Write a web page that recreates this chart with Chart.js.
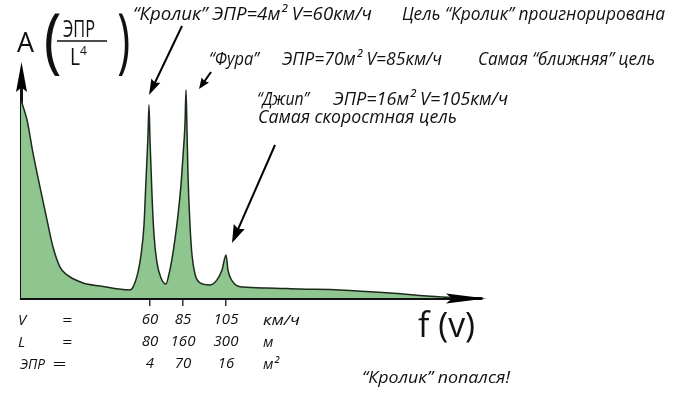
<!DOCTYPE html>
<html>
<head>
<meta charset="utf-8">
<title>f(v)</title>
<script src="https://cdn.jsdelivr.net/npm/chart.js@4/dist/chart.umd.min.js"></script>
<style>
  html, body { margin: 0; padding: 0; background: #fff; }
  #wrap { width: 680px; height: 395px; position: relative; }
</style>
</head>
<body>
<div id="wrap"><canvas id="spectrum"></canvas></div>
<script>
  // schematic doppler axis position and echo amplitude A
  const positions = [0, 6, 12, 19, 26, 32, 39, 46, 62, 79, 109,
    112, 117, 120, 123, 125, 127, 128, 129, 131, 133, 136, 140, 145,
    148, 151, 154, 157, 160, 162, 164, 165, 166, 167, 169, 171, 174, 179, 189,
    196, 201, 205, 207, 212, 222, 246, 279, 319, 369, 406, 437];
  const amplitude = [90.8, 81.7, 66.5, 50.9, 35.8, 23.4, 14.2, 10.6, 6.9, 5.5, 3.7,
    5.0, 11.9, 19.7, 33.5, 54.1, 74.8, 88.5, 72.5, 47.2, 28.9, 16.1, 9.2, 6.4,
    11.0, 18.0, 27.0, 38.0, 52.0, 65.0, 80.0, 95.4, 77.1, 56.4, 33.5, 19.7, 11.0, 6.9, 6.0,
    8.3, 12.8, 19.7, 12.8, 7.3, 5.0, 4.6, 4.1, 3.7, 2.3, 0.9, 0];

  const tickPositions = [129, 162, 205];
  const speedLabels = ['60', '85', '105'];
  const rangeLabels = ['80', '160', '300'];
  const rcsLabels = ['4', '70', '16'];

  const FAMILY = '"Open Sans", "Liberation Sans", sans-serif';

  function text(ctx, str, x, y, size, italic, width) {
    ctx.save();
    ctx.font = (italic ? 'italic ' : '') + size + 'px ' + FAMILY;
    ctx.textBaseline = 'alphabetic';
    ctx.textAlign = 'left';
    ctx.fillStyle = '#111';
    ctx.translate(x, y);
    if (width) {
      const w = ctx.measureText(str).width;
      ctx.scale(width / w, 1);
    }
    ctx.fillText(str, 0, 0);
    ctx.restore();
  }

  // squeeze a glyph into a box (used for the tall brackets)
  function boxText(ctx, str, x0, y0, x1, y1, size) {
    ctx.save();
    ctx.font = size + 'px ' + FAMILY;
    ctx.fillStyle = '#111';
    const m = ctx.measureText(str);
    const sx = (x1 - x0) / (m.actualBoundingBoxLeft + m.actualBoundingBoxRight);
    const sy = (y1 - y0) / (m.actualBoundingBoxAscent + m.actualBoundingBoxDescent);
    ctx.translate(x0 + m.actualBoundingBoxLeft * sx, y0 + m.actualBoundingBoxAscent * sy);
    ctx.scale(sx, sy);
    ctx.fillText(str, 0, 0);
    ctx.restore();
  }

  function head(ctx, x, y, angle, len, half) {
    ctx.save();
    ctx.translate(x, y);
    ctx.rotate(angle);
    ctx.beginPath();
    ctx.moveTo(0, 0);
    ctx.lineTo(-len, -half);
    ctx.lineTo(-len * 0.85, 0);
    ctx.lineTo(-len, half);
    ctx.closePath();
    ctx.fill();
    ctx.restore();
  }

  function arrow(ctx, x0, y0, x1, y1, len, half) {
    const a = Math.atan2(y1 - y0, x1 - x0);
    ctx.save();
    ctx.strokeStyle = ctx.fillStyle = '#000';
    ctx.lineWidth = 2;
    ctx.beginPath();
    ctx.moveTo(x0, y0);
    ctx.lineTo(x1 - Math.cos(a) * len * 0.8, y1 - Math.sin(a) * len * 0.8);
    ctx.stroke();
    head(ctx, x1, y1, a, len, half);
    ctx.restore();
  }

  const notes = {
    id: 'notes',
    afterDraw(chart) {
      const ctx = chart.ctx;
      const area = chart.chartArea;

      // axis arrow heads
      ctx.save();
      ctx.fillStyle = '#000';
      head(ctx, area.left + 0.5, 62, -Math.PI / 2, 30, 5.5);
      head(ctx, 486, area.bottom + 0.5, 0, 40, 5);
      ctx.restore();

      // y axis title A (ЭПР / L^4)
      text(ctx, 'A', 17, 52, 28, false, 17);
      boxText(ctx, '(', 46, 13, 60, 77, 56);
      boxText(ctx, ')', 118, 13, 129, 76, 56);
      text(ctx, 'ЭПР', 63, 37, 23, false, 32);
      ctx.save();
      ctx.strokeStyle = '#111';
      ctx.lineWidth = 1.5;
      ctx.beginPath();
      ctx.moveTo(57, 41);
      ctx.lineTo(107, 41);
      ctx.stroke();
      ctx.restore();
      text(ctx, 'L', 70, 65, 23, false, 10);
      text(ctx, '4', 80, 55, 12, false);

      // x axis title
      text(ctx, 'f (v)', 418, 337, 34, false, 57);

      // target notes
      text(ctx, '“Кролик” ЭПР=4м² V=60км/ч', 133, 20, 18, true, 239);
      text(ctx, 'Цель “Кролик” проигнорирована', 402, 20, 18, true, 263);
      text(ctx, '“Фура”', 209, 65, 18, true, 50);
      text(ctx, 'ЭПР=70м² V=85км/ч', 282, 65, 18, true, 160);
      text(ctx, 'Самая “ближняя” цель', 478, 65, 18, true, 177);
      text(ctx, '“Джип”', 257, 105, 18, true, 52);
      text(ctx, 'ЭПР=16м² V=105км/ч', 333, 105, 18, true, 175);
      text(ctx, 'Самая скоростная цель', 258, 123, 18, true, 199);
      text(ctx, '“Кролик” попался!', 362, 383, 17, true, 148);

      arrow(ctx, 182, 26, 149, 95, 16, 5);
      arrow(ctx, 211, 72, 199, 89, 11, 4.5);
      arrow(ctx, 275, 145, 232, 243, 18, 6);

      // table rows under the axis
      text(ctx, 'V', 18, 325, 15, true);
      text(ctx, '=', 62, 325, 15, true, 10);
      text(ctx, 'L', 18, 347, 15, true);
      text(ctx, '=', 62, 347, 15, true, 10);
      text(ctx, 'ЭПР', 20, 369, 15, true, 25);
      text(ctx, '=', 52, 369, 15, true, 14);
      text(ctx, 'км/ч', 263, 325, 15, true, 37);
      text(ctx, 'м', 263, 347, 15, true);
      text(ctx, 'м²', 263, 369, 15, true);
    }
  };

  new Chart(document.getElementById('spectrum'), {
    type: 'line',
    data: {
      labels: positions,
      datasets: [{
        data: positions.map((p, i) => ({ x: p, y: amplitude[i] })),
        borderColor: '#1b2a1b',
        borderWidth: 1.5,
        backgroundColor: '#8fc690',
        fill: 'origin',
        pointRadius: 0,
        cubicInterpolationMode: 'monotone'
      }]
    },
    options: {
      responsive: true,
      maintainAspectRatio: false,
      animation: false,
      layout: { padding: { left: 21, right: 198, top: 80, bottom: 0 } },
      plugins: { legend: { display: false }, tooltip: { enabled: false } },
      scales: {
        x: {
          type: 'linear',
          min: 0,
          max: 461,
          afterFit: s => { s.height = 97; },
          afterBuildTicks: s => { s.ticks = tickPositions.map(v => ({ value: v })); },
          border: { display: true, width: 3, color: '#111' },
          grid: { display: true, drawOnChartArea: false, drawTicks: true, tickLength: 8, color: '#333', lineWidth: 1.5 },
          ticks: {
            autoSkip: false,
            maxRotation: 0,
            padding: 3,
            color: '#111',
            font: { family: FAMILY, style: 'italic', size: 15, lineHeight: 22 / 15 },
            callback: (v, i) => [speedLabels[i], rangeLabels[i], rcsLabels[i]]
          }
        },
        y: {
          min: 0,
          max: 100,
          afterFit: s => { s.width = 0; },
          border: { display: true, width: 3, color: '#111' },
          grid: { display: false },
          ticks: { display: false }
        }
      }
    },
    plugins: [notes]
  });
</script>
</body>
</html>
